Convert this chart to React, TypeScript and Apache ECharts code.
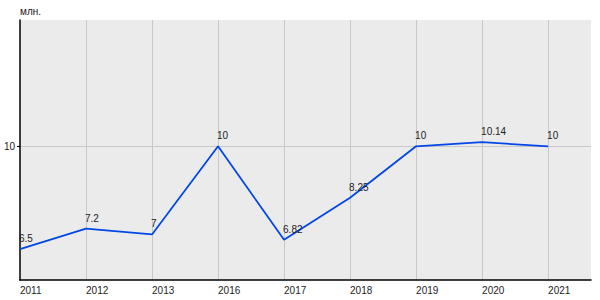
import React, { useEffect, useRef } from "react";
import * as echarts from "echarts";

const years = ["2011", "2012", "2013", "2016", "2017", "2018", "2019", "2020", "2021"];
const values = [6.5, 7.2, 7, 10, 6.82, 8.25, 10, 10.14, 10];
const yTickValue = 10;
const unitLabel = "млн.";

const FONT = "Arial, 'Liberation Sans', sans-serif";

export default function App() {
  const ref = useRef<HTMLDivElement>(null);
  useEffect(() => {
    document.body.style.margin = "0";
    const chart = echarts.init(ref.current!, null, { renderer: "svg" });
    chart.setOption({
      animation: false,
      textStyle: { fontFamily: FONT },
      grid: {
        left: 20,
        right: 9,
        top: 20,
        bottom: 20,
        show: true,
        backgroundColor: "#ebebeb",
        borderWidth: 0,
      },
      xAxis: {
        type: "value",
        min: 0,
        max: 8.65,
        interval: 1,
        axisLine: { show: true, lineStyle: { color: "#000", width: 1.5 } },
        axisTick: { show: false },
        axisLabel: {
          color: "#222",
          fontSize: 10,
          fontFamily: FONT,
          align: "left",
          margin: 5,
          showMaxLabel: false,
          formatter: (v: number) =>
            Number.isInteger(v) && years[v] !== undefined ? years[v] : "",
        },
        splitLine: {
          show: true,
          showMinLine: false,
          showMaxLine: false,
          lineStyle: { color: "#c8c8c8", width: 1 },
        },
      },
      yAxis: {
        type: "value",
        min: 5.45,
        max: 14.3,
        interval: 4.55,
        name: unitLabel,
        nameLocation: "end",
        nameGap: 4,
        nameTextStyle: {
          color: "#222",
          fontSize: 10,
          fontFamily: FONT,
          align: "left",
        },
        axisLine: { show: true, lineStyle: { color: "#000", width: 1.5 } },
        axisTick: {
          show: true,
          length: 3,
          lineStyle: { color: "#000" },
        },
        axisLabel: {
          color: "#222",
          fontSize: 10,
          fontFamily: FONT,
          margin: 5,
          showMinLabel: false,
          showMaxLabel: false,
          formatter: (v: number) => (Math.abs(v - yTickValue) < 1e-6 ? String(yTickValue) : ""),
        },
        splitLine: {
          show: true,
          showMinLine: false,
          showMaxLine: false,
          lineStyle: { color: "#c8c8c8", width: 1 },
        },
      },
      series: [
        {
          type: "line",
          data: values.map((v, i) => [i, v]),
          symbol: "circle",
          symbolSize: 1,
          showSymbol: true,
          itemStyle: { color: "rgba(0,0,0,0)" },
          lineStyle: { color: "#0047e6", width: 1.8 },
          label: {
            show: true,
            position: "top",
            align: "left",
            offset: [-1, 0],
            color: "#222",
            fontSize: 10,
            fontFamily: FONT,
            formatter: (p: any) => String(p.value[1]),
          },
        },
      ],
    });
    return () => chart.dispose();
  }, []);
  return <div ref={ref} style={{ width: 600, height: 300 }} />;
}
